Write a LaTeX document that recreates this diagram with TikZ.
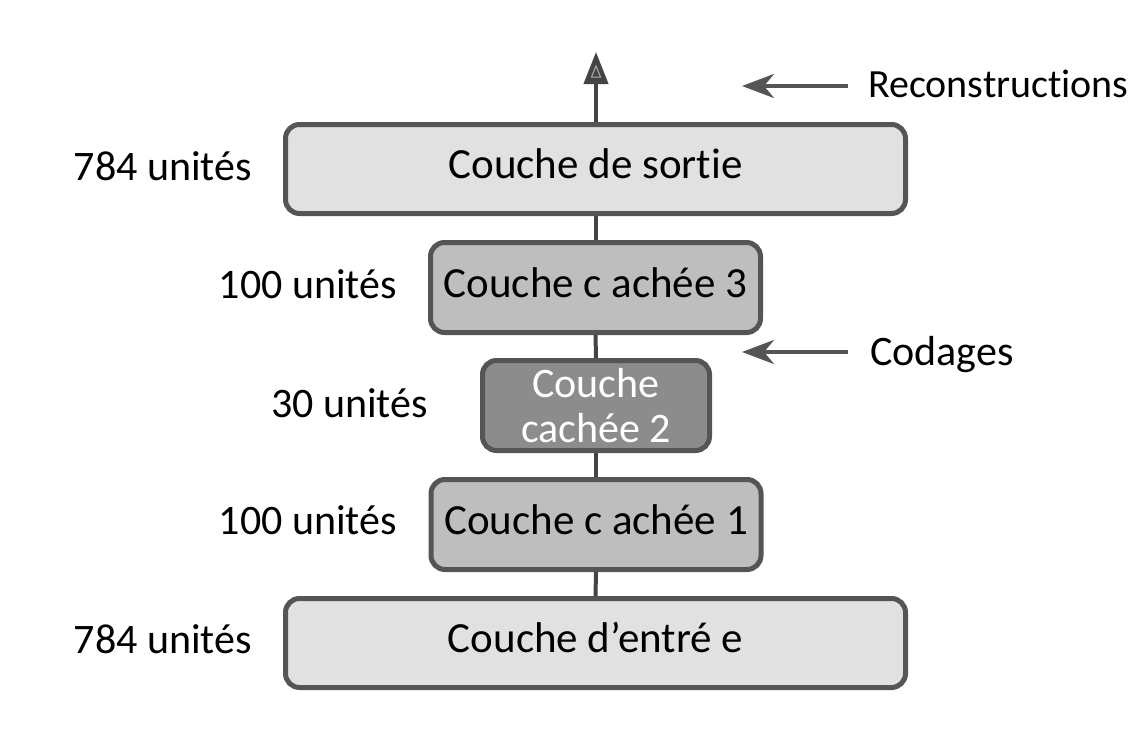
\documentclass[tikz,border=0pt]{standalone}
\usepackage{fontspec}
\setmainfont{Carlito}[Ligatures=NoCommon]
\usetikzlibrary{arrows.meta}
\definecolor{edgegray}{HTML}{555555}
\definecolor{linegray}{HTML}{444444}
\definecolor{lightfill}{HTML}{E1E1E1}
\definecolor{midfill}{HTML}{BEBEBE}
\definecolor{darkfill}{HTML}{8C8C8C}
\begin{document}
\begin{tikzpicture}[x=1pt,y=-1pt,
  layerbox/.style={draw=edgegray, line width=5pt, rounded corners=14pt,
    inner sep=0pt, text height=19pt, text depth=0pt,
    font=\fontsize{43}{45}\selectfont},
  outerbox/.style={layerbox, fill=lightfill, minimum width=620pt, minimum height=89pt},
  hidbox/.style={layerbox, fill=midfill, minimum width=330pt, minimum height=90pt},
  codebox/.style={draw=edgegray, line width=5pt, rounded corners=14pt, inner sep=0pt,
    fill=darkfill, text=white, align=center, minimum width=227pt, minimum height=90pt,
    font=\fontsize{42}{45}\selectfont},
  unitlabel/.style={anchor=base east, inner sep=0pt, font=\fontsize{42}{45}\selectfont},
  sidelabel/.style={anchor=base west, inner sep=0pt, font=\fontsize{42}{45}\selectfont},
  link/.style={draw=linegray, line width=4pt},
  sidearrow/.style={draw=edgegray, line width=4pt,
    -{Stealth[length=32pt, width=24pt, inset=10pt]}},
]
\useasboundingbox[fill=white] (0,0) rectangle (1140,734);

% connectors (drawn first, boxes on top)
\coordinate (top) at (596,52);
\coordinate (outtop) at (596,124);
\draw[link, -{Triangle[length=32pt, width=24pt]}] (outtop) -- (top);
\draw[gray!65, line width=1pt] (596,66) -- (591.5,77) -- (600.5,77) -- cycle;

\node[outerbox] (out) at (595.5,169) {Couche de sortie};
\node[hidbox] (h3) at (595.5,287.5) {Couche c achée 3};
\node[codebox] (h2) at (596,405.5) {Couche\\cachée 2};
\node[hidbox] (h1) at (596,524.5) {Couche c achée 1};
\node[outerbox] (in) at (595.5,643) {Couche d’entré e};

\draw[link] ([xshift=0.5pt]out.south) -- ([xshift=0.5pt]h3.north);
\draw[link] (h3.south) -- (h2.north);
\draw[link] (h2.south) -- (h1.north);
\draw[link] (h1.south) -- (in.north);

% unit labels
\node[unitlabel] (l1) at (252,180) {784 unités};
\node[unitlabel] (l2) at (397,298) {100 unités};
\node[unitlabel] (l3) at (428,417) {30 unités};
\node[unitlabel] (l4) at (397,534) {100 unités};
\node[unitlabel] (l5) at (252,653) {784 unités};

% side labels
\node[sidelabel, font=\fontsize{40}{45}\selectfont] (rec) at (868,97) {Reconstructions};
\node[sidelabel] (cod) at (870,365) {Codages};
\coordinate (recA) at (848,86);
\coordinate (recB) at (742,86);
\coordinate (codA) at (848,352);
\coordinate (codB) at (742,352);
\draw[sidearrow] (recA) -- (recB);
\draw[sidearrow] (codA) -- (codB);
\end{tikzpicture}
\end{document}
